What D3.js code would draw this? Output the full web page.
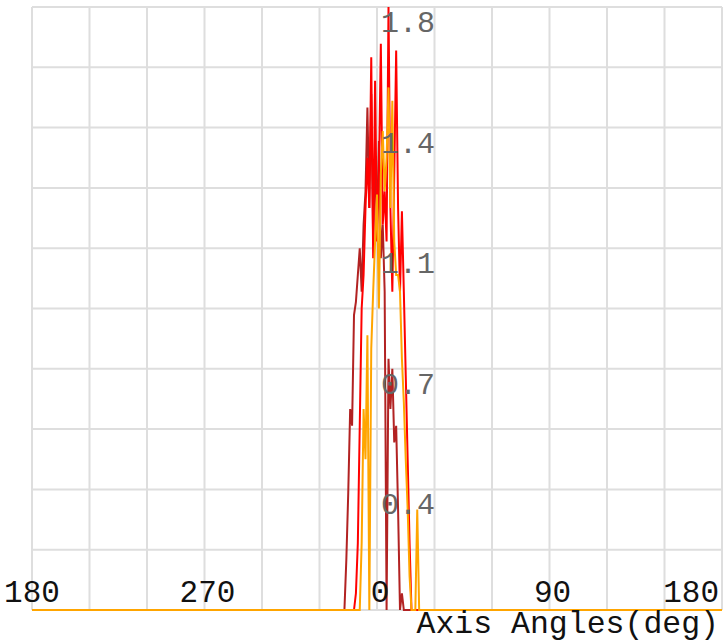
<!DOCTYPE html>
<html>
<head>
<meta charset="utf-8">
<script src="https://cdn.jsdelivr.net/npm/d3@7/dist/d3.min.js"></script>
<style>
html,body{margin:0;padding:0;background:#fff;}
svg{display:block;}
</style>
</head>
<body>
<svg id="chart" width="723" height="643"></svg>
<script>
const angles = [-18,-17,-16,-15,-14,-13,-12,-11,-10,-9,-8,-7,-6,-5,-4,-3,-2,-1,0,1,2,3,4,5,6,7,8,9,10,11,12,13,14,15,16,17,18,19,20,21,22];
const seriesFirebrick = [0,0,0.15,0.35,0.6,0.55,0.88,0.92,1.0,1.08,0.95,1.15,1.25,1.5,1.2,1.54,1.1,1.35,1.15,1.4,1.05,1.15,0.95,0,0.75,0.6,0.72,0.5,0.55,0.3,0,0.05,0,0,0,0,0,0,0,0,0];
const seriesRed = [0,0,0,0,0,0,0,0.05,0.2,0.55,0.9,1.0,1.2,1.35,1.2,1.65,1.05,1.58,1.1,1.3,1.69,1.15,1.25,1.1,1.8,1.2,0.95,1.3,1.67,1.2,0.95,1.19,0.95,0.7,0.45,0.2,0,0,0,0,0];
const seriesOrange = [0,0,0,0,0,0,0,0,0,0,0.2,0.6,0.45,0.82,0,0.78,0.95,1.1,1.24,0.9,1.3,1.43,1.25,1.35,1.56,1.2,1.52,1.1,1.0,1.0,0.95,0.75,0.62,0.45,0.3,0.1,0,0,0,0.3,0];
const xTickValues = [-180,-90,0,90,180];
const xTickLabels = ["180","270","0","90","180"];
const yTickValues = [0.36,0.72,1.08,1.44,1.8];
const yTickLabels = ["0.4","0.7","1.1","1.4","1.8"];
const xLabel = "Axis Angles(deg)";

(function(){
const svg = d3.select("#chart");
const pLeft = 32, pRight = 722, pTop = 7, pBottom = 610;
const x = d3.scaleLinear().domain([-180,180]).range([pLeft,pRight]);
const y = d3.scaleLinear().domain([0,1.8]).range([pBottom,pTop]);

const grid = svg.append("g");
grid.selectAll("line.v").data(d3.range(-180,181,30)).join("line").attr("class","v")
  .attr("x1",d=>x(d)).attr("x2",d=>x(d)).attr("y1",pTop).attr("y2",pBottom)
  .attr("stroke","#dedede").attr("stroke-width",2);
grid.selectAll("line.h").data(d3.range(0,11).map(i=>i*0.18)).join("line").attr("class","h")
  .attr("x1",pLeft).attr("x2",pRight).attr("y1",d=>y(d)).attr("y2",d=>y(d))
  .attr("stroke","#dedede").attr("stroke-width",2);

function pts(vals){
  const p = [[-180,0]];
  angles.forEach((a,i)=>p.push([a,vals[i]]));
  p.push([180,0]);
  return p;
}
const line = d3.line().x(d=>x(d[0])).y(d=>y(d[1]));
[[seriesFirebrick,"#b22222"],[seriesRed,"#ff0000"],[seriesOrange,"#ffa500"]].forEach(([v,c])=>{
  svg.append("path").attr("d",line(pts(v))).attr("fill","none")
    .attr("stroke",c).attr("stroke-width",2).attr("stroke-linejoin","miter");
});

svg.append("g").selectAll("text").data(yTickValues).join("text")
  .attr("x",x(0)+4).attr("y",d=>y(d)+25)
  .attr("font-family","'Liberation Mono', monospace").attr("font-size",30)
  .attr("fill","#666").text((d,i)=>yTickLabels[i]);

svg.append("g").selectAll("text").data(xTickValues).join("text")
  .attr("x",(d,i)=> i===xTickValues.length-1 ? 719 : x(d)+ (i===0?0:3))
  .attr("y",602)
  .attr("text-anchor",(d,i)=> i===xTickValues.length-1 ? "end" : "middle")
  .attr("font-family","'Liberation Mono', monospace").attr("font-size",31)
  .attr("fill","#111").text((d,i)=>xTickLabels[i]);

svg.append("text").attr("x",719).attr("y",633).attr("text-anchor","end")
  .attr("font-family","'Liberation Mono', monospace").attr("font-size",31.5)
  .attr("fill","#111").text(xLabel);
})();
</script>
</body>
</html>
